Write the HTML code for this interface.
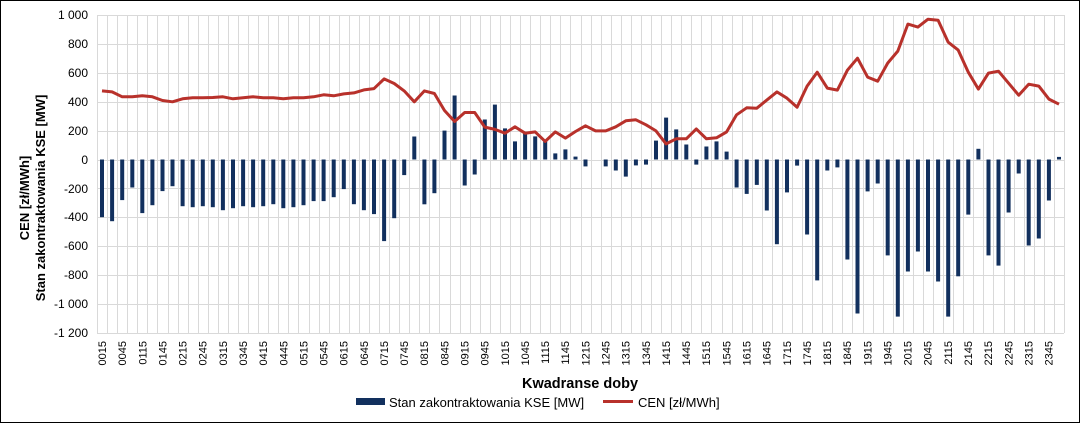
<!DOCTYPE html>
<html><head><meta charset="utf-8"><style>
html,body{margin:0;padding:0;background:#fff}
svg{display:block;font-family:"Liberation Sans",Arial,sans-serif}
</style></head><body>
<svg id="c" width="1080" height="423" viewBox="0 0 1080 423" xmlns="http://www.w3.org/2000/svg">
<rect x="0.5" y="0.5" width="1079" height="422" fill="#fff" stroke="#000" stroke-width="1"/>
<g id="grid" stroke="#d9d9d9" stroke-width="1"></g>
<g id="bars" fill="#12305e"></g>
<polyline id="line" fill="none" stroke="#b8312b" stroke-width="3" stroke-linejoin="round"/>
<g font-size="12" fill="#000" text-anchor="end">
<text x="88" y="19">1 000</text><text x="88" y="48">800</text><text x="88" y="77">600</text><text x="88" y="106">400</text><text x="88" y="135">200</text><text x="88" y="164">0</text><text x="88" y="193">-200</text><text x="88" y="221">-400</text><text x="88" y="250">-600</text><text x="88" y="279">-800</text><text x="88" y="308">-1 000</text><text x="88" y="337">-1 200</text>
</g>
<g font-size="13" font-weight="bold" text-anchor="middle" fill="#000">
<text transform="translate(29,198) rotate(-90)">CEN  [zł/MWh]</text>
<text transform="translate(45,198) rotate(-90)">Stan zakontraktowania KSE [MW]</text>
<text x="580" y="388" font-size="14.5">Kwadranse doby</text>
</g>
<g font-size="11" fill="#000" text-anchor="end">
<text transform="translate(106,341) rotate(-90)">0015</text>
<text transform="translate(126.1,341) rotate(-90)">0045</text>
<text transform="translate(146.3,341) rotate(-90)">0115</text>
<text transform="translate(166.4,341) rotate(-90)">0145</text>
<text transform="translate(186.6,341) rotate(-90)">0215</text>
<text transform="translate(206.7,341) rotate(-90)">0245</text>
<text transform="translate(226.8,341) rotate(-90)">0315</text>
<text transform="translate(247,341) rotate(-90)">0345</text>
<text transform="translate(267.1,341) rotate(-90)">0415</text>
<text transform="translate(287.3,341) rotate(-90)">0445</text>
<text transform="translate(307.4,341) rotate(-90)">0515</text>
<text transform="translate(327.5,341) rotate(-90)">0545</text>
<text transform="translate(347.7,341) rotate(-90)">0615</text>
<text transform="translate(367.8,341) rotate(-90)">0645</text>
<text transform="translate(388,341) rotate(-90)">0715</text>
<text transform="translate(408.1,341) rotate(-90)">0745</text>
<text transform="translate(428.2,341) rotate(-90)">0815</text>
<text transform="translate(448.4,341) rotate(-90)">0845</text>
<text transform="translate(468.5,341) rotate(-90)">0915</text>
<text transform="translate(488.7,341) rotate(-90)">0945</text>
<text transform="translate(508.8,341) rotate(-90)">1015</text>
<text transform="translate(528.9,341) rotate(-90)">1045</text>
<text transform="translate(549.1,341) rotate(-90)">1115</text>
<text transform="translate(569.2,341) rotate(-90)">1145</text>
<text transform="translate(589.4,341) rotate(-90)">1215</text>
<text transform="translate(609.5,341) rotate(-90)">1245</text>
<text transform="translate(629.6,341) rotate(-90)">1315</text>
<text transform="translate(649.8,341) rotate(-90)">1345</text>
<text transform="translate(669.9,341) rotate(-90)">1415</text>
<text transform="translate(690.1,341) rotate(-90)">1445</text>
<text transform="translate(710.2,341) rotate(-90)">1515</text>
<text transform="translate(730.3,341) rotate(-90)">1545</text>
<text transform="translate(750.5,341) rotate(-90)">1615</text>
<text transform="translate(770.6,341) rotate(-90)">1645</text>
<text transform="translate(790.8,341) rotate(-90)">1715</text>
<text transform="translate(810.9,341) rotate(-90)">1745</text>
<text transform="translate(831,341) rotate(-90)">1815</text>
<text transform="translate(851.2,341) rotate(-90)">1845</text>
<text transform="translate(871.3,341) rotate(-90)">1915</text>
<text transform="translate(891.5,341) rotate(-90)">1945</text>
<text transform="translate(911.6,341) rotate(-90)">2015</text>
<text transform="translate(931.7,341) rotate(-90)">2045</text>
<text transform="translate(951.9,341) rotate(-90)">2115</text>
<text transform="translate(972,341) rotate(-90)">2145</text>
<text transform="translate(992.2,341) rotate(-90)">2215</text>
<text transform="translate(1012.3,341) rotate(-90)">2245</text>
<text transform="translate(1032.4,341) rotate(-90)">2315</text>
<text transform="translate(1052.6,341) rotate(-90)">2345</text>
</g>
<rect x="356" y="398" width="29" height="7" fill="#12305e"/>
<text x="389" y="407" font-size="13">Stan zakontraktowania KSE [MW]</text>
<line x1="603" y1="401.5" x2="633" y2="401.5" stroke="#b8312b" stroke-width="3"/>
<text x="638" y="407" font-size="13">CEN [zł/MWh]</text>
</svg>
<script>
var bars=[-399,-427,-281,-194,-371,-316,-219,-185,-323,-330,-323,-330,-351,-337,-323,-330,-323,-309,-337,-330,-316,-288,-288,-261,-205,-309,-351,-378,-565,-406,-108,159,-310,-233,200,443,-180,-104,277,380,215,125,194,160,125,42,70,20,-48,0,-48,-76,-118,-41,-35,131,290,208,104,-35,90,125,55,-194,-238,-176,-353,-586,-228,-42,-519,-837,-76,-55,-692,-1066,-221,-166,-664,-1087,-775,-637,-775,-844,-1087,-808,-381,74,-664,-734,-367,-97,-595,-547,-284,18];
var price=[475,468,434,434,441,434,408,399,420,427,427,429,434,420,427,434,427,427,420,427,427,434,448,441,454,461,482,491,558,526,475,399,475,457,339,263,325,325,224,208,182,226,182,191,125,191,148,194,233,198,198,226,268,275,240,198,108,143,143,212,143,150,191,309,358,355,411,468,424,362,508,604,494,480,618,701,570,542,667,750,937,916,971,964,812,757,604,487,598,611,528,445,521,508,418,383];
var NS="http://www.w3.org/2000/svg";
function el(t,a,p){var e=document.createElementNS(NS,t);for(var k in a)e.setAttribute(k,a[k]);document.getElementById(p).appendChild(e);}
var L=97,R=1064,W=(R-L)/96,Z=159.5,S=0.1445;
for(var v=-1200;v<=1000;v+=200){var y=Math.round(Z-v*S)+0.5;el('line',{x1:L,x2:R,y1:y,y2:y},'grid');}
for(var i=0;i<=96;i++){var x=Math.round(L+i*W)+0.5;el('line',{x1:x,x2:x,y1:15,y2:333},'grid');}
var pts=[];
for(var i=0;i<96;i++){var cx=L+W*(i+0.5);var v=bars[i];var y1=Z-Math.max(v,0)*S,h=Math.abs(v)*S;
if(h>0)el('rect',{x:(cx-2).toFixed(1),y:y1.toFixed(1),width:4,height:h.toFixed(1)},'bars');
pts.push(cx.toFixed(1)+','+(Z-price[i]*S).toFixed(1));}
document.getElementById('line').setAttribute('points',pts.join(' '));
</script>
</body></html>
